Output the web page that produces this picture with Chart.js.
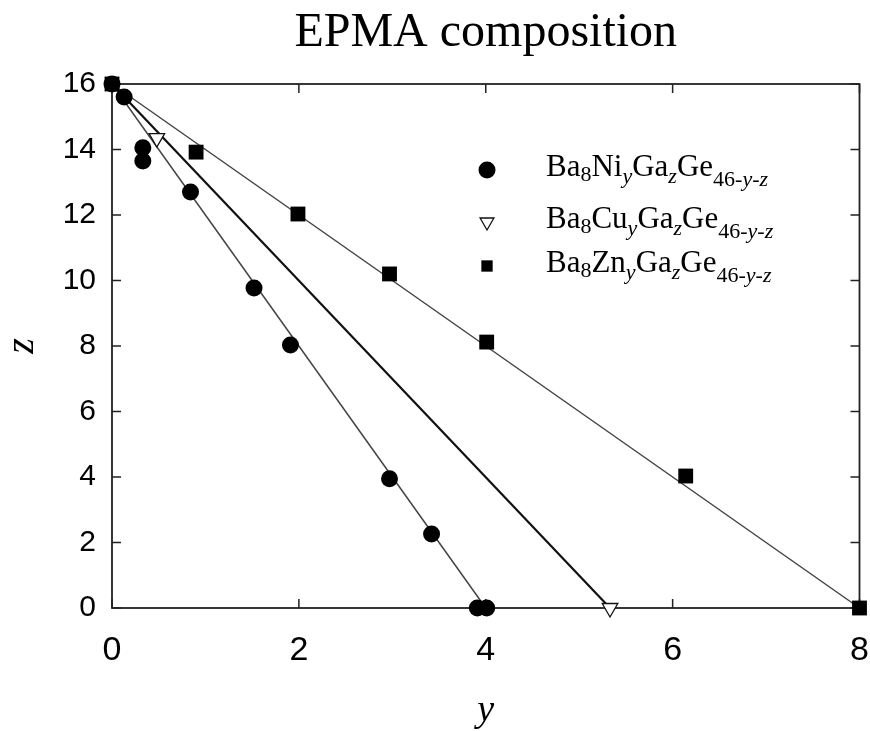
<!DOCTYPE html>
<html>
<head>
<meta charset="utf-8">
<script src="https://cdn.jsdelivr.net/npm/chart.js@4"></script>
<style>
  html, body { margin: 0; padding: 0; background: #fff; }
  #wrap { width: 870px; height: 731px; }
</style>
</head>
<body>
<div id="wrap"><canvas id="myChart" width="870" height="731"></canvas></div>
<script>
// Ba8NiyGazGe46-y-z
const niY = [0, 0.13, 0.33, 0.33, 0.84, 1.52, 1.91, 2.97, 3.42, 3.91, 4.01];
const niZ = [16, 15.6, 14.05, 13.65, 12.7, 9.77, 8.03, 3.95, 2.26, 0, 0];
// Ba8CuyGazGe46-y-z
const cuY = [0.48, 5.33];
const cuZ = [14.35, 0];
// Ba8ZnyGazGe46-y-z
const znY = [0, 0.9, 1.99, 2.97, 4.01, 6.14, 8];
const znZ = [16, 13.92, 12.03, 10.2, 8.12, 4.03, 0];
// guide lines from (0,16) down to z = 0
const lineStartY = [0, 0, 0];
const lineStartZ = [16, 16, 16];
const lineEndY = [4, 5.33, 8];
const lineEndZ = [0, 0, 0];

const xTicks = [0, 2, 4, 6, 8];
const yTicks = [0, 2, 4, 6, 8, 10, 12, 14, 16];

const metals = ["Ni", "Cu", "Zn"];

// legend text pieces: [text, subscript?, italic?]
function formula(m) {
    return [
        ["Ba", false, false], ["8", true, false], [m, false, false], ["y", true, true],
        ["Ga", false, false], ["z", true, true], ["Ge", false, false],
        ["46-", true, false], ["y", true, true], ["-", true, false], ["z", true, true],
    ];
}

function pts(xs, ys) {
    return xs.map((x, i) => ({ x: x, y: ys[i] }));
}

const serif = "'Liberation Serif', 'DejaVu Serif', serif";
const sans = "'Liberation Sans', Arial, sans-serif";

const lineColors = ['#444', '#111', '#444'];
const lineWidths = [1.5, 2.2, 1.5];
const lineSets = lineEndY.map((ey, i) => ({
    data: pts([lineStartY[i], ey], [lineStartZ[i], lineEndZ[i]]),
    showLine: true,
    borderColor: lineColors[i],
    borderWidth: lineWidths[i],
    pointRadius: 0,
    order: 5,
    clip: false,
}));

const pointSets = [
    { data: pts(niY, niZ), pointStyle: 'circle', pointRadius: 8.5, backgroundColor: '#000', borderColor: '#000', borderWidth: 0, rotation: 0 },
    { data: pts(cuY, cuZ), pointStyle: 'triangle', pointRadius: 9, backgroundColor: '#fff', borderColor: '#111', borderWidth: 1.3, rotation: 180 },
    { data: pts(znY, znZ), pointStyle: 'rect', pointRadius: 10.5, backgroundColor: '#000', borderColor: '#000', borderWidth: 0, rotation: 0 },
].map(d => Object.assign(d, { showLine: false, order: 1, clip: false, pointHoverRadius: d.pointRadius }));

const framePlugin = {
    id: 'frame',
    beforeDatasetsDraw(chart) {
        const { ctx, chartArea: a, scales } = chart;
        ctx.save();
        ctx.strokeStyle = '#222';
        ctx.lineWidth = 1.8;
        ctx.strokeRect(a.left, a.top, a.right - a.left, a.bottom - a.top);
        ctx.lineWidth = 1.5;
        const len = 9;
        ctx.beginPath();
        xTicks.forEach(v => {
            const px = scales.x.getPixelForValue(v);
            ctx.moveTo(px, a.bottom); ctx.lineTo(px, a.bottom - len);
            ctx.moveTo(px, a.top); ctx.lineTo(px, a.top + len);
        });
        yTicks.forEach(v => {
            const py = scales.y.getPixelForValue(v);
            ctx.moveTo(a.left, py); ctx.lineTo(a.left + len, py);
            ctx.moveTo(a.right, py); ctx.lineTo(a.right - len, py);
        });
        ctx.stroke();
        ctx.restore();
    },
    afterDraw(chart) {
        const { ctx, chartArea: a } = chart;
        ctx.save();
        // title centred over the plot box
        ctx.fillStyle = '#000';
        ctx.font = "48px " + serif;
        ctx.textAlign = 'center';
        ctx.textBaseline = 'middle';
        ctx.fillText('EPMA composition', (a.left + a.right) / 2, 33);

        // legend
        const rowY = [170, 222, 266];
        ctx.textAlign = 'left';
        ctx.textBaseline = 'alphabetic';
        rowY.forEach((y, i) => {
            const ds = pointSets[i];
            ctx.fillStyle = ds.backgroundColor;
            ctx.strokeStyle = ds.borderColor;
            ctx.lineWidth = ds.borderWidth;
            Chart.helpers.drawPoint(ctx, {
                pointStyle: ds.pointStyle,
                radius: i === 0 ? ds.pointRadius : 8,
                rotation: ds.rotation,
                borderWidth: ds.borderWidth,
            }, 487, y);
            ctx.fillStyle = '#000';
            let x = 546;
            const base = y + 6;
            let subCount = 0;
            formula(metals[i]).forEach(([txt, sub, ital]) => {
                ctx.font = (ital ? 'italic ' : '') + (sub ? '22px ' : '31px ') + serif;
                let dy = 0;
                if (sub) {
                    dy = subCount === 0 ? 5 : (subCount < 3 ? 7 : 10);
                    subCount++;
                }
                ctx.fillText(txt, x, base + dy);
                x += ctx.measureText(txt).width;
            });
        });
        ctx.restore();
    }
};

const ctx = document.getElementById("myChart").getContext("2d");

const myChart = new Chart(ctx, {
    type: 'scatter',
    data: { datasets: pointSets.concat(lineSets) },
    options: {
        responsive: false,
        animation: false,
        layout: { padding: { top: 84, right: 10, left: 0, bottom: 0 } },
        plugins: {
            legend: { display: false },
            tooltip: { enabled: false },
        },
        scales: {
            x: {
                type: 'linear',
                min: 0,
                max: 8,
                afterBuildTicks: s => { s.ticks = xTicks.map(v => ({ value: v })); },
                afterFit: s => { s.height = 123; s.paddingLeft = 0; s.paddingRight = 0; },
                grid: { display: false, drawTicks: false },
                border: { display: false },
                ticks: { color: '#000', padding: 22, font: { family: sans, size: 34 } },
                title: { display: true, text: 'y', color: '#000', padding: { top: 0, bottom: -3 }, font: { family: serif, size: 38, style: 'italic' } },
            },
            y: {
                type: 'linear',
                min: 0,
                max: 16,
                afterBuildTicks: s => { s.ticks = yTicks.map(v => ({ value: v })); },
                afterFit: s => { s.width = 112; s.paddingTop = 0; s.paddingBottom = 0; },
                grid: { display: false, drawTicks: false },
                border: { display: false },
                ticks: { color: '#000', padding: 16, font: { family: sans, size: 30 } },
                title: { display: true, text: 'z', color: '#000', padding: { top: -2, bottom: 0 }, font: { family: serif, size: 40, style: 'italic' } },
            },
        },
    },
    plugins: [framePlugin],
});
</script>
</body>
</html>
